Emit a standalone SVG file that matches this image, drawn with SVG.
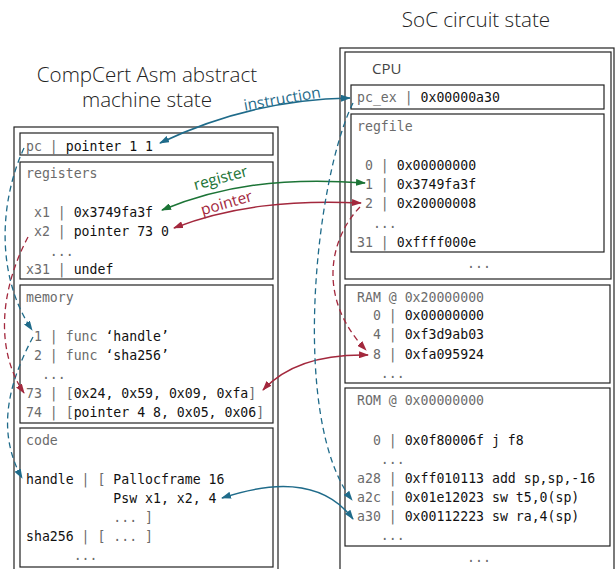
<svg xmlns="http://www.w3.org/2000/svg" width="616" height="569" viewBox="0 0 616 569">
  <defs>
    <style>
      .title { font-family: "Open Sans", "Noto Sans", sans-serif; font-weight: 300; font-size: 20.6px; fill: #222; }
      .head { font-family: "Open Sans", "Noto Sans", sans-serif; font-size: 15px; fill: #444; }
      .mono { font-family: "DejaVu Sans Mono", "Liberation Mono", monospace; font-size: 13.2px; fill: #111; white-space: pre; }
      .k { fill: #6b6b6b; }
      .box { fill: #fff; stroke: #222; stroke-width: 1.2; }
      .frame { fill: none; stroke: #222; stroke-width: 1.2; }
      .lbl { font-family: "Open Sans", "Noto Sans", sans-serif; font-size: 15.5px; }
      .link { fill: none; stroke-width: 1.5; }
      .dash { fill: none; stroke-width: 1.3; stroke-dasharray: 6 4; }
      .blue { stroke: #1f6b8a; }
      .green { stroke: #1c7436; }
      .red { stroke: #a3283d; }
    </style>
    <marker id="ah-blue" viewBox="0 0 10 7" refX="9" refY="3.5" markerWidth="10" markerHeight="7" markerUnits="userSpaceOnUse" orient="auto-start-reverse">
      <path d="M0,0 L10,3.5 L0,7 z" fill="#1f6b8a"/>
    </marker>
    <marker id="ah-green" viewBox="0 0 10 7" refX="9" refY="3.5" markerWidth="10" markerHeight="7" markerUnits="userSpaceOnUse" orient="auto-start-reverse">
      <path d="M0,0 L10,3.5 L0,7 z" fill="#1c7436"/>
    </marker>
    <marker id="ah-red" viewBox="0 0 10 7" refX="9" refY="3.5" markerWidth="10" markerHeight="7" markerUnits="userSpaceOnUse" orient="auto-start-reverse">
      <path d="M0,0 L10,3.5 L0,7 z" fill="#a3283d"/>
    </marker>
  </defs>

  <rect width="616" height="569" fill="#fff"/>

  <!-- headings -->
  <text class="title" text-anchor="middle"><tspan x="147" y="82">CompCert Asm abstract</tspan><tspan x="147" y="107">machine state</tspan></text>
  <text class="title" x="476" y="27" text-anchor="middle">SoC circuit state</text>

  <!-- abstract machine state -->
  <g id="asm-state">
    <rect class="frame" x="14" y="127" width="264" height="450"/>

    <g id="asm-pc">
      <rect class="box" x="20" y="133" width="253" height="22"/>
      <text class="mono" x="26" y="151" xml:space="preserve"><tspan class="k">pc | </tspan>pointer 1 1</text>
    </g>

    <g id="asm-registers">
      <rect class="box" x="20" y="162" width="253" height="117"/>
      <text class="mono k" x="26" y="178">registers</text>
      <text class="mono" x="26" y="217" xml:space="preserve"><tspan class="k"> x1 | </tspan>0x3749fa3f</text>
      <text class="mono" x="26" y="236" xml:space="preserve"><tspan class="k"> x2 | </tspan>pointer 73 0</text>
      <text class="mono k" x="26" y="256" xml:space="preserve">   ...</text>
      <text class="mono" x="26" y="274" xml:space="preserve"><tspan class="k">x31 | </tspan>undef</text>
    </g>

    <g id="asm-memory">
      <rect class="box" x="20" y="285" width="253" height="138"/>
      <text class="mono k" x="26" y="302">memory</text>
      <text class="mono" x="26" y="341" xml:space="preserve"><tspan class="k"> 1 | func </tspan>‘handle’</text>
      <text class="mono" x="26" y="360" xml:space="preserve"><tspan class="k"> 2 | func </tspan>‘sha256’</text>
      <text class="mono k" x="26" y="379" xml:space="preserve">  ...</text>
      <text class="mono" x="26" y="398" xml:space="preserve"><tspan class="k">73 | [</tspan>0x24, 0x59, 0x09, 0xfa<tspan class="k">]</tspan></text>
      <text class="mono" x="26" y="417" xml:space="preserve"><tspan class="k">74 | [</tspan>pointer 4 8, 0x05, 0x06<tspan class="k">]</tspan></text>
    </g>

    <g id="asm-code">
      <rect class="box" x="20" y="428" width="253" height="139"/>
      <text class="mono k" x="26" y="445">code</text>
      <text class="mono" x="26" y="484" xml:space="preserve">handle<tspan class="k"> | [ </tspan>Pallocframe 16</text>
      <text class="mono" x="26" y="503" xml:space="preserve">           Psw x1, x2, 4</text>
      <text class="mono k" x="26" y="522" xml:space="preserve">           ... ]</text>
      <text class="mono" x="26" y="541" xml:space="preserve">sha256<tspan class="k"> | [ ... ]</tspan></text>
      <text class="mono k" x="26" y="560" xml:space="preserve">      ...</text>
    </g>
  </g>

  <!-- SoC circuit state -->
  <g id="soc-state">
    <rect class="frame" x="340" y="48" width="274" height="530"/>

    <g id="soc-cpu">
      <rect class="box" x="345" y="52" width="266" height="227"/>
      <text class="head" x="372" y="74">CPU</text>

      <g id="soc-pc-ex">
        <rect class="box" x="351" y="85" width="253" height="24"/>
        <text class="mono" x="357" y="102" xml:space="preserve"><tspan class="k">pc_ex | </tspan>0x00000a30</text>
      </g>

      <g id="soc-regfile">
        <rect class="box" x="351" y="114" width="253" height="138"/>
        <text class="mono k" x="357" y="131">regfile</text>
        <text class="mono" x="357" y="170" xml:space="preserve"><tspan class="k"> 0 | </tspan>0x00000000</text>
        <text class="mono" x="357" y="189" xml:space="preserve"><tspan class="k"> 1 | </tspan>0x3749fa3f</text>
        <text class="mono" x="357" y="208" xml:space="preserve"><tspan class="k"> 2 | </tspan>0x20000008</text>
        <text class="mono k" x="357" y="228" xml:space="preserve">  ...</text>
        <text class="mono" x="357" y="247" xml:space="preserve"><tspan class="k">31 | </tspan>0xffff000e</text>
      </g>
      <text class="mono k" x="467" y="268">...</text>
    </g>

    <g id="soc-ram">
      <rect class="box" x="345" y="285" width="265" height="98"/>
      <text class="mono k" x="357" y="302">RAM @ 0x20000000</text>
      <text class="mono" x="357" y="320" xml:space="preserve"><tspan class="k">  0 | </tspan>0x00000000</text>
      <text class="mono" x="357" y="339" xml:space="preserve"><tspan class="k">  4 | </tspan>0xf3d9ab03</text>
      <text class="mono" x="357" y="359" xml:space="preserve"><tspan class="k">  8 | </tspan>0xfa095924</text>
      <text class="mono k" x="357" y="378" xml:space="preserve">   ...</text>
    </g>

    <g id="soc-rom">
      <rect class="box" x="345" y="388" width="265" height="158"/>
      <text class="mono k" x="357" y="405">ROM @ 0x00000000</text>
      <text class="mono" x="357" y="445" xml:space="preserve"><tspan class="k">  0 | </tspan>0x0f80006f j f8</text>
      <text class="mono k" x="357" y="464" xml:space="preserve">   ...</text>
      <text class="mono" x="357" y="483" xml:space="preserve"><tspan class="k">a28 | </tspan>0xff010113 add sp,sp,-16</text>
      <text class="mono" x="357" y="502" xml:space="preserve"><tspan class="k">a2c | </tspan>0x01e12023 sw t5,0(sp)</text>
      <text class="mono" x="357" y="521" xml:space="preserve"><tspan class="k">a30 | </tspan>0x00112223 sw ra,4(sp)</text>
      <text class="mono k" x="357" y="540" xml:space="preserve">   ...</text>
    </g>
    <text class="mono k" x="467" y="562">...</text>
  </g>

  <!-- connectors -->
  <g id="connectors">
    <!-- correspondences between the two states -->
    <path class="link blue" d="M160,143 C225,112 290,99 350,98" marker-start="url(#ah-blue)" marker-end="url(#ah-blue)"/>
    <path class="link green" d="M162,210 C220,186 280,177 365,183" marker-start="url(#ah-green)" marker-end="url(#ah-green)"/>
    <path class="link red" d="M174,228 C230,206 290,200 361,203" marker-start="url(#ah-red)" marker-end="url(#ah-red)"/>
    <path class="link red" d="M263,390 C285,366 320,354 368,355" marker-start="url(#ah-red)" marker-end="url(#ah-red)"/>
    <path class="link blue" d="M222,498 C270,482 322,478 353,519" marker-start="url(#ah-blue)" marker-end="url(#ah-blue)"/>

    <!-- pointers followed inside each state -->
    <path class="dash blue" d="M24,148 C0,200 -5,275 32,330" marker-end="url(#ah-blue)"/>
    <path class="dash blue" d="M33,337 C10,380 -5,430 22,478" marker-end="url(#ah-blue)"/>
    <path class="dash red" d="M28,237 C0,290 -5,350 24,393" marker-end="url(#ah-red)"/>
    <path class="dash blue" d="M353,103 C315,180 290,420 352,500" marker-end="url(#ah-blue)"/>
    <path class="dash red" d="M360,207 C328,240 318,300 366,350" marker-end="url(#ah-red)"/>

    <text class="lbl" fill="#1f6b8a" x="283" y="104" text-anchor="middle" transform="rotate(-10 283 104)">instruction</text>
    <text class="lbl" fill="#1c7436" x="222" y="183" text-anchor="middle" transform="rotate(-15 222 183)">register</text>
    <text class="lbl" fill="#a3283d" x="228" y="208" text-anchor="middle" transform="rotate(-16 228 208)">pointer</text>
  </g>
</svg>
